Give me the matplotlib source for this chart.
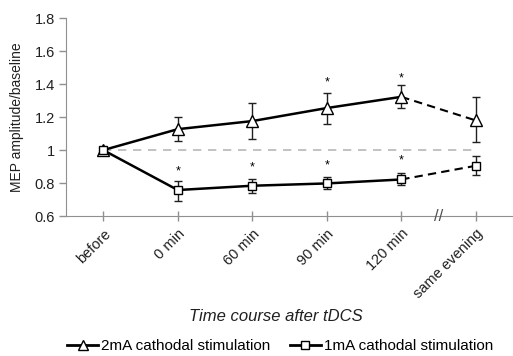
import matplotlib.pyplot as plt
from matplotlib.lines import Line2D

plt.rcParams["font.family"] = ["Liberation Sans", "DejaVu Sans"]

categories = ["before", "0 min", "60 min", "90 min", "120 min", "same evening"]

ma2_mean = [1.0, 1.127, 1.176, 1.255, 1.323, 1.18]
ma2_lo = [0.98, 1.055, 1.07, 1.158, 1.256, 1.05]
ma2_hi = [1.02, 1.20, 1.283, 1.347, 1.394, 1.32]
ma2_star = [None, None, None, 1.41, 1.436, None]

ma1_mean = [1.0, 0.758, 0.784, 0.798, 0.822, 0.905]
ma1_lo = [0.98, 0.693, 0.737, 0.762, 0.786, 0.848]
ma1_hi = [1.02, 0.814, 0.822, 0.835, 0.862, 0.966]
ma1_star = [None, 0.868, 0.893, 0.909, 0.935, None]

fig = plt.figure(figsize=(5.13, 3.56), dpi=100)
ax = fig.add_axes([0.1287, 0.393, 0.8713, 0.556])
x = list(range(len(categories)))

# baseline reference
ax.plot([0, 5], [1, 1], color="#b8b8b8", lw=1.2, ls=(0, (5, 4)), zorder=1)


def draw_series(mean, lo, hi, stars, marker, ms):
    yerr = [[m - l for m, l in zip(mean, lo)], [h - m for m, h in zip(mean, hi)]]
    ax.errorbar(x, mean, yerr=yerr, fmt="none", ecolor="#202020", elinewidth=1,
                capsize=3, capthick=1, zorder=2)
    ax.plot(x[:5], mean[:5], color="black", lw=1.8, zorder=3)
    ax.plot(x[4:], mean[4:], color="black", lw=1.5, ls=(0, (4, 2.5)), zorder=3)
    ax.plot(x, mean, ls="none", marker=marker, ms=ms, mfc="white", mec="black",
            mew=1, zorder=4)
    for xi, s in zip(x, stars):
        if s is not None:
            ax.text(xi, s, "*", ha="center", va="center", fontsize=9)


draw_series(ma2_mean, ma2_lo, ma2_hi, ma2_star, "^", 8)
draw_series(ma1_mean, ma1_lo, ma1_hi, ma1_star, "s", 6)

ax.set_xlim(-0.5, 5.5)
ax.set_ylim(0.6, 1.8)
ax.set_yticks([0.6, 0.8, 1.0, 1.2, 1.4, 1.6, 1.8])
ax.set_yticklabels(["0.6", "0.8", "1", "1.2", "1.4", "1.6", "1.8"], fontsize=10.5,
                   color="#202020")
ax.set_xticks(x)
ax.set_xticklabels(categories, rotation=45, ha="right", rotation_mode="anchor",
                   fontsize=10.5, color="#202020")
for sp in ["top", "right"]:
    ax.spines[sp].set_visible(False)
for sp in ["left", "bottom"]:
    ax.spines[sp].set_color("#909090")
ax.tick_params(axis="both", color="#909090", width=1)
ax.tick_params(axis="x", direction="inout", length=7, pad=4)
ax.tick_params(axis="y", direction="out", length=5, pad=3)

# axis break mark
ax.text(4.5, 0.6, "//", ha="center", va="center", fontsize=12, color="#505050",
        clip_on=False)

ax.set_ylabel("MEP amplitude/baseline", fontsize=10, color="#202020")
ax.yaxis.set_label_coords(-0.094, 0.5)
fig.text(0.537, 0.11, "Time course after tDCS", ha="center", va="center",
         fontsize=12, style="italic", color="#202020")

handles = [
    Line2D([], [], color="black", lw=2, marker="^", ms=7, mfc="white", mec="black"),
    Line2D([], [], color="black", lw=2, marker="s", ms=6, mfc="white", mec="black"),
]
fig.legend(handles, ["2mA cathodal stimulation", "1mA cathodal stimulation"],
           loc="center", bbox_to_anchor=(0.546, 0.028), ncol=2, frameon=False,
           fontsize=11, handlelength=2.0, handletextpad=0.2, columnspacing=1.3,
           borderpad=0)

fig.savefig("out.png", dpi=100)
